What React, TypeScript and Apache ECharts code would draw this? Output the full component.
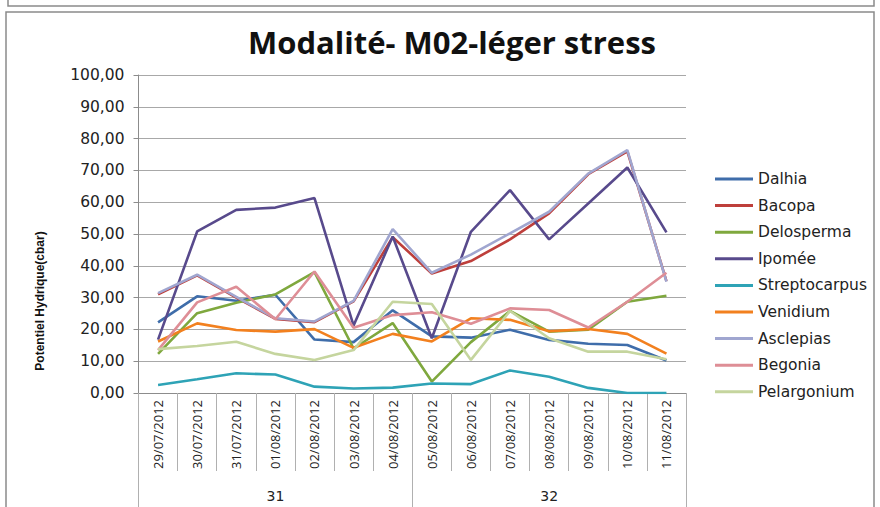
import React, { useEffect, useRef } from "react";
import * as echarts from "echarts";

const dates = [
  "29/07/2012", "30/07/2012", "31/07/2012", "01/08/2012", "02/08/2012", "03/08/2012", "04/08/2012",
  "05/08/2012", "06/08/2012", "07/08/2012", "08/08/2012", "09/08/2012", "10/08/2012", "11/08/2012",
];
const weeks = ["31", "32"];

const dalhia = [22.2, 30.4, 29.0, 30.9, 16.8, 16.0, 26.0, 17.8, 17.4, 19.9, 16.7, 15.5, 15.1, 10.2];
const bacopa = [31.0, 37.0, 30.0, 23.3, 22.3, 28.8, 49.0, 37.6, 41.5, 48.3, 56.5, 68.8, 76.0, 35.2];
const delosperma = [12.3, 25.1, 28.4, 31.0, 38.0, 14.0, 22.0, 3.6, 16.0, 25.8, 19.3, 19.9, 28.7, 30.6];
const ipomee = [16.8, 50.8, 57.6, 58.3, 61.3, 21.2, 49.2, 17.2, 50.7, 63.8, 48.3, 59.6, 70.9, 50.5];
const streptocarpus = [2.5, 4.3, 6.2, 5.8, 2.0, 1.4, 1.7, 3.0, 2.8, 7.1, 5.1, 1.6, 0.0, 0.0];
const venidium = [16.2, 21.9, 19.8, 19.3, 20.1, 14.2, 18.6, 16.2, 23.5, 23.0, 19.4, 20.1, 18.6, 12.4];
const asclepias = [31.4, 37.2, 30.2, 23.5, 22.5, 29.0, 51.5, 37.8, 43.5, 50.2, 57.0, 69.0, 76.4, 35.0];
const begonia = [13.5, 28.5, 33.4, 23.2, 38.2, 20.5, 24.5, 25.4, 21.8, 26.6, 26.1, 20.6, 28.7, 37.8];
const pelargonium = [13.8, 14.8, 16.1, 12.3, 10.4, 13.5, 28.7, 28.0, 10.4, 25.8, 17.2, 13.0, 13.0, 10.6];

const seriesDefs = [
  { name: "Dalhia", data: dalhia, color: "#3F6DAA" },
  { name: "Bacopa", data: bacopa, color: "#BE3F3B" },
  { name: "Delosperma", data: delosperma, color: "#7FA83E" },
  { name: "Ipomée", data: ipomee, color: "#584A8C" },
  { name: "Streptocarpus", data: streptocarpus, color: "#2EA3B6" },
  { name: "Venidium", data: venidium, color: "#F2801F" },
  { name: "Asclepias", data: asclepias, color: "#A0A6D0" },
  { name: "Begonia", data: begonia, color: "#DE8E96" },
  { name: "Pelargonium", data: pelargonium, color: "#C5D59E" },
];

const yTitle = "Potentiel Hydrique(cbar)";
const title = "Modalité- M02-léger stress";

export default function App() {
  const ref = useRef<HTMLDivElement>(null);
  useEffect(() => {
    if (!ref.current) return;
    const chart = echarts.init(ref.current, null, { renderer: "svg" });
    const font = "'Open Sans', sans-serif";
    const wide = "'DejaVu Sans', sans-serif";
    chart.setOption({
      animation: false,
      backgroundColor: "#ffffff",
      title: {
        text: title,
        left: 243,
        top: 21,
        textStyle: { fontFamily: font, fontWeight: 700, fontSize: 31, color: "#111" },
      },
      legend: {
        orient: "vertical",
        left: 710,
        top: 166,
        itemWidth: 38,
        itemHeight: 3,
        itemGap: 10.6,
        icon: "rect",
        textStyle: { fontFamily: wide, fontSize: 15.5, color: "#222" },
        data: seriesDefs.map((s) => s.name),
      },
      grid: { left: 138.5, right: 194, top: 75, bottom: 114 },
      xAxis: [
        {
          type: "category",
          data: dates,
          boundaryGap: true,
          axisLine: { lineStyle: { color: "#8c8c8c" } },
          axisTick: { show: true, interval: 0, length: 78, lineStyle: { color: "#b0b0b0" } },
          axisLabel: {
            interval: 0,
            rotate: 90,
            margin: 7,
            fontFamily: font,
            fontSize: 13,
            color: "#222",
          },
        },
        {
          type: "category",
          data: weeks,
          position: "bottom",
          boundaryGap: true,
          axisLine: { show: false },
          axisTick: { show: true, interval: 0, length: 120, lineStyle: { color: "#b0b0b0" } },
          axisLabel: { interval: 0, margin: 96, fontFamily: wide, fontSize: 14, color: "#222" },
        },
      ],
      yAxis: {
        type: "value",
        min: 0,
        max: 100,
        interval: 10,
        axisLine: { show: true, lineStyle: { color: "#8c8c8c" } },
        axisTick: { show: true, length: 5, lineStyle: { color: "#8c8c8c" } },
        splitLine: { lineStyle: { color: "#a8a8a8", width: 1 } },
        axisLabel: {
          margin: 14,
          fontFamily: wide,
          fontSize: 15.5,
          color: "#222",
          formatter: (v: number) => v.toFixed(2).replace(".", ","),
        },
      },
      graphic: [
        {
          type: "rect",
          shape: { x: 8, y: -10, width: 866, height: 16 },
          style: { fill: "none", stroke: "#8a8a8a", lineWidth: 1.5 },
          silent: true,
        },
        {
          type: "rect",
          shape: { x: 6, y: 12, width: 868, height: 510 },
          style: { fill: "none", stroke: "#8a8a8a", lineWidth: 1.5 },
          silent: true,
        },
        {
          type: "text",
          x: 40,
          y: 301,
          rotation: Math.PI / 2,
          style: {
            text: yTitle,
            fontFamily: "'Liberation Sans Narrow', 'Liberation Sans', sans-serif",
            fontWeight: 700,
            fontSize: 12,
            fill: "#111",
            align: "center",
            verticalAlign: "middle",
          },
        },
      ],
      series: seriesDefs.map((s) => ({
        name: s.name,
        type: "line",
        data: s.data,
        symbol: "none",
        lineStyle: { width: 2.6, color: s.color },
        itemStyle: { color: s.color },
      })),
    });
    return () => chart.dispose();
  }, []);
  return (
    <div
      ref={ref}
      style={{ position: "absolute", left: 0, top: 0, width: 880, height: 507 }}
    />
  );
}
